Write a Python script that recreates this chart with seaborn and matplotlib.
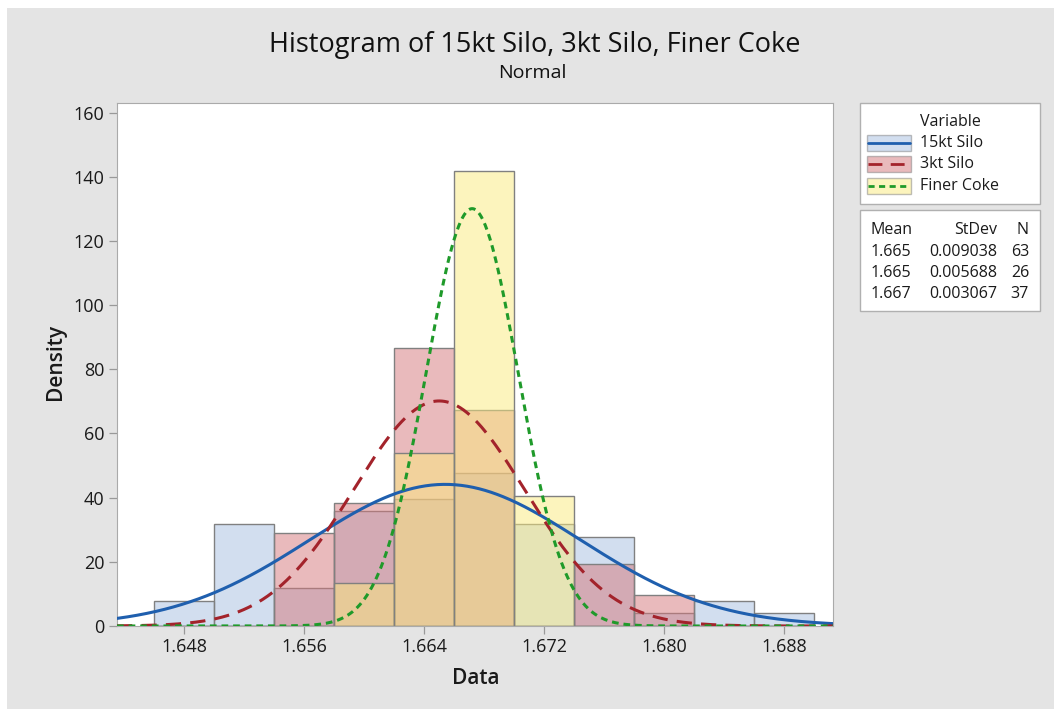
import numpy as np
import matplotlib
matplotlib.use("Agg")
import matplotlib.pyplot as plt
import seaborn as sns
from matplotlib.patches import Rectangle
from matplotlib.lines import Line2D

# ---------------- data ----------------
variables = ["15kt Silo", "3kt Silo", "Finer Coke"]
bin_edges = [1.646, 1.650, 1.654, 1.658, 1.662, 1.666, 1.670, 1.674, 1.678, 1.682, 1.686, 1.690]
counts_15kt = [2, 8, 3, 9, 10, 12, 8, 7, 1, 2, 1]
counts_3kt = [0, 0, 3, 4, 9, 7, 0, 2, 1, 0, 0]
counts_finer = [0, 0, 0, 2, 8, 21, 6, 0, 0, 0, 0]
means = [1.6654, 1.6650, 1.6672]
stdevs = [0.009038, 0.005688, 0.003067]
ns = [63, 26, 37]
mean_labels = ["1.665", "1.665", "1.667"]
stdev_labels = ["0.009038", "0.005688", "0.003067"]
x_ticks = [1.648, 1.656, 1.664, 1.672, 1.680, 1.688]
y_ticks = [0, 20, 40, 60, 80, 100, 120, 140, 160]

# ---------------- style ----------------
sns.set_theme(style="white")
FONT = ["Open Sans", "DejaVu Sans"]
plt.rcParams["font.family"] = FONT
TXT = "#1a1a1a"

W, H = 1054, 709
fig = plt.figure(figsize=(W / 100, H / 100), dpi=100, facecolor="#e4e4e4")
ax = fig.add_axes([117 / W, 1 - 626 / H, (833 - 117) / W, (626 - 103) / H])
ax.set_facecolor("white")

# white margins of the screenshot
fig.patches.append(Rectangle((0, 1 - 8 / H), 1, 8 / H, transform=fig.transFigure,
                             facecolor="white", edgecolor="none", zorder=-10))
fig.patches.append(Rectangle((0, 0), 7 / W, 1, transform=fig.transFigure,
                             facecolor="white", edgecolor="none", zorder=-10))

fill_colors = ["#a7bfe1", "#d5777b", "#fbeb7d"]
line_colors = ["#1f5fae", "#a3232b", "#1f9a2a"]
line_styles = ["-", (0, (5, 3)), (0, (2.2, 1.6))]
all_counts = [counts_15kt, counts_3kt, counts_finer]
centers = [(a + b) / 2 for a, b in zip(bin_edges[:-1], bin_edges[1:])]

for counts, fc in zip(all_counts, fill_colors):
    sns.histplot(x=centers, weights=counts, bins=bin_edges, stat="density",
                 color=fc, alpha=0.5, edgecolor="#808080", linewidth=1.0, ax=ax)

xlim = (1.64354, 1.69124)
xs = np.linspace(xlim[0], xlim[1], 600)
for m, s, c, ls in zip(means, stdevs, line_colors, line_styles):
    ys = np.exp(-0.5 * ((xs - m) / s) ** 2) / (s * np.sqrt(2 * np.pi))
    ax.plot(xs, ys, color=c, lw=2.2, linestyle=ls, zorder=5)

ax.set_xlim(*xlim)
ax.set_ylim(0, 163)
ax.set_xticks(x_ticks)
ax.set_xticklabels([f"{t:.3f}" for t in x_ticks])
ax.set_yticks(y_ticks)
ax.tick_params(axis="both", direction="out", length=6, width=0.9, color="#999999",
               labelsize=13, labelcolor=TXT, bottom=True, left=True, pad=3)
for sp in ax.spines.values():
    sp.set_color("#aaaaaa")
    sp.set_linewidth(0.8)
ax.set_xlabel("")
ax.set_ylabel("")
fig.text(476 / W, 1 - 679 / H, "Data", ha="center", va="center", fontsize=15,
         fontweight="semibold", color=TXT)
fig.text(56 / W, 1 - 362 / H, "Density", ha="center", va="center", fontsize=15,
         fontweight="semibold", color=TXT, rotation=90)

fig.text(535 / W, 1 - 45 / H, "Histogram of 15kt Silo, 3kt Silo, Finer Coke",
         ha="center", va="center", fontsize=19.5, color="#111111")
fig.text(532 / W, 1 - 73 / H, "Normal", ha="center", va="center", fontsize=14,
         color="#111111")

# ---------------- legend box 1 (drawn manually) ----------------
def add_box(x0, y0, x1, y1):
    fig.patches.append(Rectangle((x0 / W, 1 - y1 / H), (x1 - x0) / W, (y1 - y0) / H,
                                 transform=fig.transFigure, facecolor="white",
                                 edgecolor="#b0b0b0", linewidth=1.0, zorder=1))

add_box(860, 103, 1040, 204)
LFS = 11.5
fig.text(920 / W, 1 - 122 / H, "Variable", ha="left", va="center", fontsize=LFS,
         fontweight="medium", color=TXT)
entry_y = [143, 164, 186]
for name, fc, c, ls, yy in zip(variables, fill_colors, line_colors, line_styles, entry_y):
    fig.patches.append(Rectangle((867 / W, 1 - (yy + 8) / H), 44 / W, 16 / H,
                                 transform=fig.transFigure, facecolor=fc, alpha=0.5,
                                 edgecolor="#808080", linewidth=1.0, zorder=2))
    fig.lines.append(Line2D([868 / W, 910 / W], [1 - yy / H, 1 - yy / H],
                            transform=fig.transFigure, color=c, lw=2.0,
                            linestyle=ls, zorder=3))
    fig.text(920 / W, 1 - yy / H, name, ha="left", va="center", fontsize=LFS,
             fontweight="medium", color=TXT)

# ---------------- legend box 2 ----------------
add_box(860, 210, 1040, 311)
rows_y = [230, 252, 273, 294]
fig.text(870 / W, 1 - rows_y[0] / H, "Mean", ha="left", va="center", fontsize=LFS,
         fontweight="medium", color=TXT)
fig.text(997 / W, 1 - rows_y[0] / H, "StDev", ha="right", va="center", fontsize=LFS,
         fontweight="medium", color=TXT)
fig.text(1029 / W, 1 - rows_y[0] / H, "N", ha="right", va="center", fontsize=LFS,
         fontweight="medium", color=TXT)
for i in range(3):
    yy = 1 - rows_y[i + 1] / H
    fig.text(871 / W, yy, mean_labels[i], ha="left", va="center", fontsize=LFS,
             fontweight="medium", color=TXT)
    fig.text(997 / W, yy, stdev_labels[i], ha="right", va="center", fontsize=LFS,
             fontweight="medium", color=TXT)
    fig.text(1029 / W, yy, str(ns[i]), ha="right", va="center", fontsize=LFS,
             fontweight="medium", color=TXT)

fig.savefig("out.png", dpi=100, facecolor=fig.get_facecolor())
